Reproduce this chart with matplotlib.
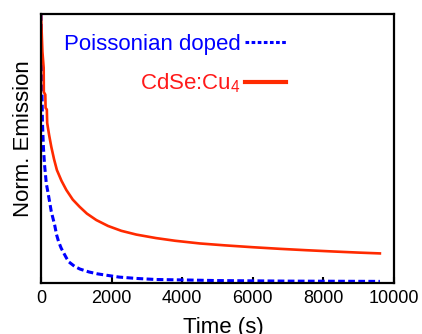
import matplotlib
matplotlib.use("Agg")
import matplotlib.pyplot as plt

plt.rcParams['font.family'] = ['Liberation Sans', 'DejaVu Sans']
plt.rcParams['mathtext.fontset'] = 'custom'
plt.rcParams['mathtext.rm'] = 'Liberation Sans'

# emission decay traces (time in s, normalised intensity)
cdse_t = [0, 40, 76, 80, 122, 130, 165, 175, 230, 292, 370, 450, 580,
          717, 900, 1096, 1300, 1567, 1900, 2275, 2700, 3258, 3800, 4500,
          5200, 6000, 6770, 7500, 8300, 9000, 9600]
cdse_y = [1.0, 0.86, 0.80, 0.71, 0.70, 0.651, 0.645, 0.595, 0.55, 0.506,
          0.46, 0.42, 0.38, 0.346, 0.31, 0.283, 0.258, 0.234, 0.212, 0.194,
          0.180, 0.167, 0.157, 0.147, 0.140, 0.133, 0.127, 0.122, 0.117,
          0.113, 0.110]

pois_t = [0, 20, 40, 70, 100, 150, 200, 246, 292, 340, 388, 440, 500,
          570, 650, 720, 793, 950, 1100, 1360, 1600, 1800, 2000, 2210,
          2700, 3258, 4200, 5000, 6000, 7000, 8300, 9600]
pois_y = [1.0, 0.80, 0.60, 0.50, 0.44, 0.37, 0.335, 0.30, 0.265, 0.24,
          0.215, 0.18, 0.153, 0.13, 0.11, 0.093, 0.078, 0.062, 0.052,
          0.041, 0.034, 0.030, 0.026, 0.022, 0.017, 0.013, 0.011, 0.009,
          0.008, 0.007, 0.0065, 0.006]

xticks = [0, 2000, 4000, 6000, 8000, 10000]

fig = plt.figure(figsize=(4.22, 3.34), dpi=100)
ax = fig.add_axes([41/422, 1 - 283/334, 353/422, 269/334])

ax.plot(pois_t, pois_y, color='#0000ff', lw=2.2, ls=(0, (2.2, 1.1)),
        label='Poissonian doped')
ax.plot(cdse_t, cdse_y, color='#ff2a00', lw=1.9, label='CdSe:Cu$_4$')

ax.set_xlim(0, 10000)
ax.set_ylim(0, 1.0)
ax.set_xticks(xticks)
ax.set_yticks([])
ax.tick_params(axis='x', direction='in', length=4, width=1.5,
               labelsize=13, pad=5)
for s in ax.spines.values():
    s.set_linewidth(1.6)

ax.set_xlabel('Time (s)', fontsize=16)
ax.xaxis.set_label_coords((223 - 41) / 353, -0.125)
ax.set_ylabel('Norm. Emission', fontsize=16)
ax.yaxis.set_label_coords(-0.02, 0.535)

leg = ax.legend(loc='upper right', bbox_to_anchor=(0.694, 0.925),
                frameon=False, markerfirst=False, fontsize=16,
                handlelength=1.85, handletextpad=0.2, labelspacing=0.75,
                borderpad=0, borderaxespad=0)
for txt, c in zip(leg.get_texts(), ['#0000ff', '#ff1a1a']):
    txt.set_color(c)
leg.get_lines()[0].set_dashes((1.2, 0.8))
leg.get_lines()[1].set_linewidth(3)

fig.savefig('out.png', dpi=100)
